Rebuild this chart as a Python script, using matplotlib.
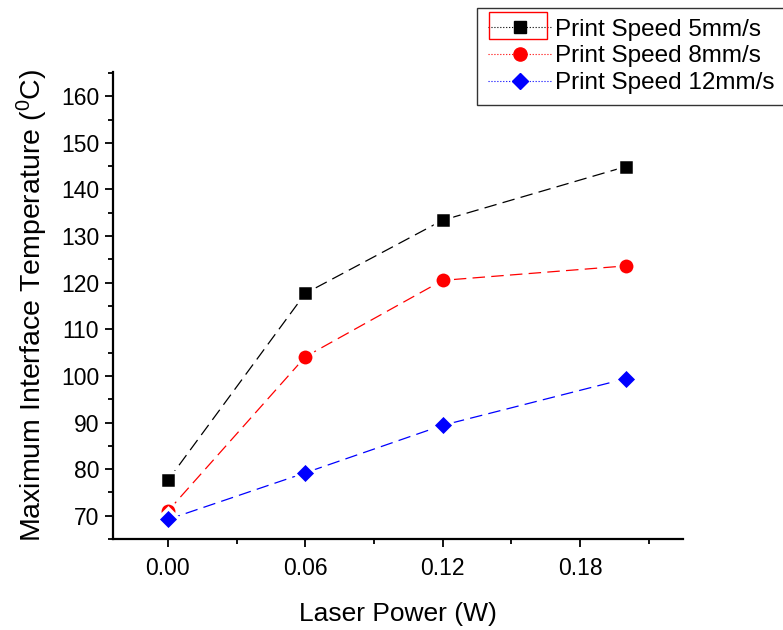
import matplotlib
matplotlib.use("Agg")
import matplotlib.pyplot as plt
from matplotlib.lines import Line2D
from matplotlib.patches import Rectangle
from matplotlib.ticker import MultipleLocator

plt.rcParams['font.family'] = ['Liberation Sans', 'DejaVu Sans']
plt.rcParams['mathtext.default'] = 'regular'

laser_power = [0.0, 0.06, 0.12, 0.20]
speed_5 = [77.6, 117.7, 133.4, 144.9]
speed_8 = [71.0, 104.1, 120.5, 123.6]
speed_12 = [69.2, 79.2, 89.4, 99.4]
labels = ['Print Speed 5mm/s', 'Print Speed 8mm/s', 'Print Speed 12mm/s']
x_ticks = [0.00, 0.06, 0.12, 0.18]
y_ticks = [70, 80, 90, 100, 110, 120, 130, 140, 150, 160]

fig = plt.figure(figsize=(7.83, 6.3), dpi=100)
ax = fig.add_axes([0.1443, 0.1444, 0.7280, 0.7413])

series = [(speed_5, 'black', 's', 9.5), (speed_8, 'red', 'o', 10), (speed_12, 'blue', 'D', 8.5)]
handles = []
for (vals, c, m, ms), lab in zip(series, labels):
    ax.plot(laser_power, vals, color=c, lw=0.9, dashes=(10, 5), marker=m,
            markersize=ms + 2.5, markeredgecolor='white', markeredgewidth=2.5,
            markerfacecolor=c, zorder=3)
    handles.append(Line2D([], [], color=c, lw=0.8, ls=':', marker=m,
                          markersize=ms * 0.95, markerfacecolor=c, markeredgecolor=c))

ax.set_xlim(-0.024, 0.225)
ax.set_ylim(65, 165.2)
ax.set_xticks(x_ticks)
ax.set_xticklabels(['0.00', '0.06', '0.12', '0.18'])
ax.set_yticks(y_ticks)
ax.xaxis.set_minor_locator(MultipleLocator(0.03))
ax.yaxis.set_minor_locator(MultipleLocator(5))
ax.tick_params(axis='both', which='major', direction='out', length=6, width=1.3,
               labelsize=16.5, colors='black')
ax.tick_params(axis='both', which='minor', direction='out', length=3.5, width=1.3)
ax.tick_params(axis='x', pad=7)
ax.tick_params(axis='y', pad=4)
for s in ['top', 'right']:
    ax.spines[s].set_visible(False)
for s in ['left', 'bottom']:
    ax.spines[s].set_linewidth(1.6)

ax.set_xlabel('Laser Power (W)', fontsize=19, labelpad=16)
ax.set_ylabel('Maximum Interface Temperature ($^0$C)', fontsize=20.5, labelpad=8)

leg = fig.legend(handles, labels, loc='upper left', bbox_to_anchor=(0.609, 0.988),
                 bbox_transform=fig.transFigure, fontsize=17.5, frameon=True,
                 fancybox=False, edgecolor='#333333', framealpha=1,
                 handlelength=2.65, handletextpad=0.12, borderpad=0.45,
                 labelspacing=0.2, borderaxespad=0)
leg.get_frame().set_linewidth(1.0)

fig.patches.append(Rectangle((489 / 783, 1 - 39 / 630), 58 / 783, 27 / 630,
                             transform=fig.transFigure, fill=False,
                             edgecolor='red', lw=1.0, zorder=10))

fig.savefig('out.png', dpi=100)
